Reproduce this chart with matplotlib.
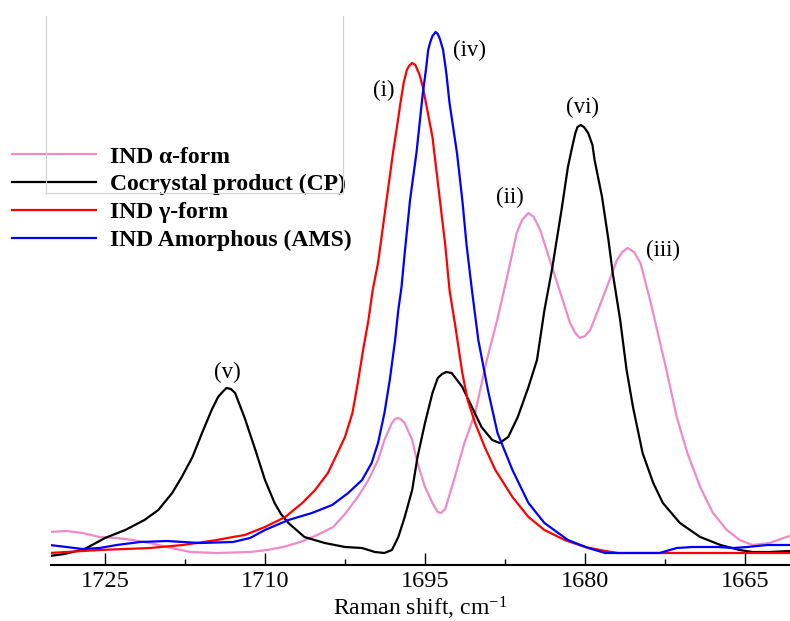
import matplotlib
matplotlib.use("Agg")
import matplotlib.pyplot as plt
from matplotlib.lines import Line2D

plt.rcParams['font.family'] = ['Liberation Serif', 'DejaVu Serif']
plt.rcParams['mathtext.default'] = 'regular'

# Raman spectra, C=O stretching region (intensity in arbitrary units)
alpha_shift = [1730.2, 1728.6, 1727.1, 1725.5, 1723.9, 1722.4, 1720.8, 1719.2, 1717.0,
               1714.5, 1711.4, 1709.8, 1708.3, 1706.7, 1705.1, 1703.6, 1702.5, 1701.3,
               1700.3, 1699.4, 1698.8, 1698.1, 1697.8, 1697.5, 1697.3, 1696.9, 1696.2,
               1695.7, 1695.0, 1694.3, 1693.8, 1693.5, 1693.1, 1692.2, 1691.3, 1690.3,
               1689.2, 1688.3, 1687.3, 1686.4, 1685.9, 1685.3, 1684.8, 1684.2, 1683.3,
               1682.3, 1681.4, 1680.9, 1680.5, 1680.0, 1679.5, 1678.3, 1677.0, 1676.5,
               1676.0, 1675.4, 1674.8, 1673.9, 1673.3, 1672.3, 1671.4, 1670.4, 1669.2,
               1668.0, 1666.7, 1665.5, 1664.3, 1662.7, 1661.1, 1660.8]
alpha_int = [33, 34, 32, 28, 27, 25, 22, 18, 13,
             12, 13, 15, 18, 23, 30, 38, 51, 68,
             85, 105, 125, 142, 146, 147, 146, 142, 125,
             102, 78, 62, 53, 52, 56, 88, 122, 152,
             205, 242, 288, 332, 345, 352, 348, 335, 305,
             272, 242, 232, 227, 229, 235, 268, 305, 313,
             317, 313, 302, 265, 238, 192, 148, 112, 78,
             52, 35, 25, 20, 22, 28, 29]

cp_shift = [1730.2, 1728.8, 1726.9, 1725.0, 1723.1, 1721.3, 1720.0, 1718.7, 1717.8,
            1716.8, 1715.9, 1715.0, 1714.4, 1713.9, 1713.6, 1713.2, 1712.8, 1711.9,
            1710.9, 1710.0, 1709.1, 1708.5, 1707.8, 1706.3, 1704.4, 1702.5, 1700.9,
            1699.7, 1698.8, 1698.1, 1697.5, 1696.9, 1696.2, 1695.7, 1695.0, 1694.3,
            1693.8, 1693.4, 1693.0, 1692.5, 1691.5, 1690.6, 1689.7, 1688.7, 1688.0,
            1687.2, 1686.3, 1685.3, 1684.5, 1683.8, 1683.1, 1682.2, 1681.6, 1681.2,
            1680.9, 1680.7, 1680.4, 1680.1, 1679.7, 1679.3, 1679.1, 1678.4, 1677.8,
            1677.4, 1676.7, 1676.1, 1675.5, 1674.6, 1673.6, 1672.7, 1671.1, 1669.2,
            1667.3, 1665.5, 1664.3, 1662.7, 1660.8]
cp_int = [9, 11, 16, 27, 35, 45, 55, 72, 88,
          108, 132, 155, 168, 174, 177, 176, 172, 147,
          115, 85, 62, 51, 42, 28, 22, 18, 17,
          13, 12, 15, 28, 48, 75, 108, 142, 172,
          187, 191, 193, 192, 178, 158, 138, 125, 122,
          128, 148, 178, 205, 255, 295, 355, 398, 418,
          432, 438, 440, 438, 432, 420, 405, 368, 325,
          292, 245, 195, 158, 112, 82, 62, 42, 28,
          20, 15, 13, 13, 14]

gamma_shift = [1730.2, 1725.5, 1720.8, 1717.7, 1714.5, 1713.0, 1711.9, 1710.0, 1708.1,
               1706.5, 1705.3, 1704.1, 1703.2, 1702.5, 1701.8, 1701.3, 1700.8, 1700.3,
               1699.9, 1699.4, 1698.6, 1698.0, 1697.6, 1697.3, 1697.0, 1696.7, 1696.5,
               1696.2, 1695.9, 1695.5, 1695.2, 1694.8, 1694.3, 1693.6, 1693.1, 1692.7,
               1692.2, 1691.5, 1691.0, 1690.3, 1689.4, 1688.4, 1686.8, 1685.3, 1683.8,
               1681.9, 1680.0, 1678.1, 1676.9, 1674.4, 1669.2, 1660.8]
gamma_int = [12, 15, 17, 20, 25, 28, 30, 38, 48,
             62, 75, 92, 112, 128, 152, 182, 215, 245,
             275, 302, 365, 412, 440, 462, 482, 495, 499,
             502, 500, 490, 478, 456, 428, 365, 320, 275,
             242, 192, 165, 142, 118, 95, 68, 48, 35,
             25, 18, 14, 12, 12, 12, 12]

ams_shift = [1730.2, 1728.6, 1727.1, 1725.5, 1723.9, 1721.7, 1719.2, 1716.1, 1713.0,
             1711.4, 1710.0, 1707.8, 1705.6, 1703.7, 1702.2, 1700.9, 1700.0, 1699.4,
             1698.8, 1698.3, 1697.8, 1697.5, 1697.2, 1696.9, 1696.4, 1695.8, 1695.2,
             1694.9, 1694.7, 1694.5, 1694.3, 1694.0, 1693.8, 1693.6, 1693.3, 1693.0,
             1692.7, 1692.0, 1691.5, 1691.1, 1690.6, 1690.0, 1689.1, 1688.2, 1686.8,
             1685.3, 1683.8, 1681.6, 1679.7, 1678.1, 1673.0, 1671.4, 1669.9, 1667.6,
             1666.1, 1664.8, 1662.9, 1660.8]
ams_int = [20, 18, 16, 17, 20, 23, 24, 22, 23,
           27, 35, 45, 52, 60, 72, 85, 102, 122,
           152, 185, 225, 255, 278, 312, 365, 412, 472,
           496, 515, 523, 529, 533, 531, 526, 515, 492,
           462, 412, 365, 320, 275, 225, 175, 132, 95,
           62, 42, 25, 17, 12, 12, 17, 18, 18,
           17, 18, 20, 20]

peak_labels = ['(i)', '(ii)', '(iii)', '(iv)', '(v)', '(vi)']
label_shift = [1698.9, 1687.0, 1672.7, 1690.8, 1713.5, 1680.2]
label_int = [475, 368, 315, 515, 193, 458]

fig = plt.figure(figsize=(7.9, 6.21), dpi=100)
ax = fig.add_axes([51 / 790, 56 / 621, 739 / 790, 565 / 621])

ax.plot(alpha_shift, alpha_int, color='#f08ac6', lw=1.6, label='IND \u03b1-form')
ax.plot(cp_shift, cp_int, color='black', lw=1.6, label='Cocrystal product (CP)')
ax.plot(gamma_shift, gamma_int, color='#ff0000', lw=1.6, label='IND \u03b3-form')
ax.plot(ams_shift, ams_int, color='#0000ff', lw=1.6, label='IND Amorphous (AMS)')

for txt, xs, yi in zip(peak_labels, label_shift, label_int):
    ax.text(xs, yi, txt, fontsize=16.5, ha='center', va='center')

ax.set_xlim(1730.06, 1660.78)
ax.set_ylim(0, 565)
ax.set_xticks([1725, 1710, 1695, 1680, 1665])
ax.set_xticks([1717.5, 1702.5, 1687.5, 1672.5], minor=True)
ax.set_yticks([])
for side in ['left', 'right', 'top']:
    ax.spines[side].set_visible(False)
ax.spines['bottom'].set_linewidth(1.5)
ax.tick_params(axis='x', which='major', direction='in', length=8.5, width=1.0,
               labelsize=17.5, pad=4)
ax.tick_params(axis='x', which='minor', direction='in', length=4.5, width=1.0)
ax.set_xlabel('Raman shift, cm$^{-1}$', fontsize=17, labelpad=2)

leg = ax.legend(loc='upper left', bbox_to_anchor=(12 / 790, 1 - 146 / 621),
                bbox_transform=fig.transFigure, frameon=False, borderpad=0,
                borderaxespad=0, handlelength=3.55, handletextpad=0.6,
                labelspacing=0.27, prop={'weight': 'bold', 'size': 17})

# thin grey box behind the legend
box_col = '#d0d0d0'
for xs, ys in [([46, 46], [16, 193]), ([343, 343], [16, 193]), ([46, 343], [193, 193])]:
    fig.add_artist(Line2D([x / 790 for x in xs], [1 - y / 621 for y in ys],
                          color=box_col, lw=0.8, zorder=0.5))

fig.savefig('out.png', dpi=100)
